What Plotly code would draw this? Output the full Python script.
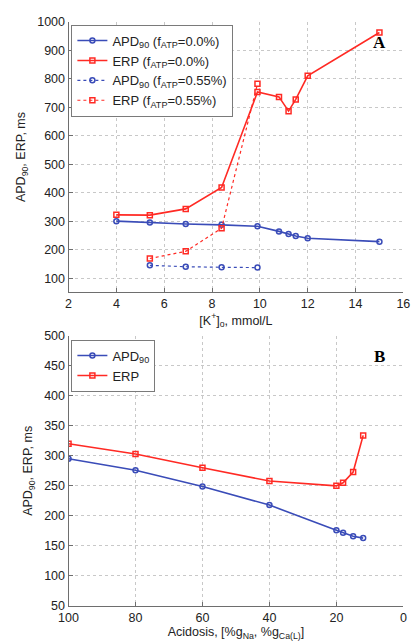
import plotly.graph_objects as go

# Panel A: extracellular potassium
k_conc = [4, 5.4, 6.9, 8.4, 9.9, 10.8, 11.2, 11.5, 12, 15]
apd90_atp0 = [300, 295, 290, 287, 282, 264, 255, 248, 240, 228]
erp_atp0 = [322, 321, 343, 418, 753, 736, 686, 727, 810, 962]

k_conc_atp = [5.4, 6.9, 8.4, 9.9]
apd90_atp055 = [145, 140, 138, 137]
erp_atp055 = [169, 194, 275, 782]

# Panel B: acidosis
acidosis = [100, 80, 60, 40, 20, 18, 15, 12]
apd90_acid = [295, 276, 249, 218, 176, 172, 166, 163]
erp_acid = [320, 303, 280, 258, 250, 255, 273, 334]

BLUE = "#3a4cb8"
RED = "#ff2a24"
FONT = "Liberation Sans, Arial, sans-serif"

fig = go.Figure()

def add(x, y, name, color, symbol, dash, xa, ya, legend):
    fig.add_trace(go.Scatter(
        x=x, y=y, name=name, mode="lines+markers",
        line=dict(color=color, width=1.6 if dash == "solid" else 1.2, dash=dash),
        marker=dict(symbol=symbol, size=5, color=color, line=dict(color=color, width=1.5)),
        xaxis=xa, yaxis=ya, legend=legend,
    ))

add(k_conc, apd90_atp0, "APD<sub>90</sub> (f<sub>ATP</sub>=0.0%)", BLUE, "circle-open", "solid", "x", "y", "legend")
add(k_conc, erp_atp0, "ERP (f<sub>ATP</sub>=0.0%)", RED, "square-open", "solid", "x", "y", "legend")
add(k_conc_atp, apd90_atp055, "APD<sub>90</sub> (f<sub>ATP</sub>=0.55%)", BLUE, "circle-open", "dot", "x", "y", "legend")
add(k_conc_atp, erp_atp055, "ERP (f<sub>ATP</sub>=0.55%)", RED, "square-open", "dot", "x", "y", "legend")

add(acidosis, apd90_acid, "APD<sub>90</sub>", BLUE, "circle-open", "solid", "x2", "y2", "legend2")
add(acidosis, erp_acid, "ERP", RED, "square-open", "solid", "x2", "y2", "legend2")

axis_common = dict(
    showline=True, linecolor="#6e6e6e", linewidth=1,
    ticks="inside", ticklen=4, tickcolor="#6e6e6e",
    showgrid=True, gridcolor="#c8c8c8", griddash="dot", gridwidth=1,
    zeroline=False, mirror=False,
    tickfont=dict(family=FONT, size=12.5, color="#222"),
    title_font=dict(family=FONT, size=12.5, color="#222"),
)

legend_common = dict(
    xanchor="left", yanchor="top",
    bordercolor="#7a7a7a", borderwidth=1, bgcolor="white",
    font=dict(family=FONT, size=13, color="#222"),
    tracegroupgap=0, itemwidth=30,
)

fig.update_layout(
    width=419, height=643,
    margin=dict(l=0, r=0, t=0, b=0),
    paper_bgcolor="white", plot_bgcolor="white",
    font=dict(family=FONT, size=12.5, color="#222"),
    xaxis=dict(domain=[0.1456, 0.9785], range=[2, 16], dtick=2, anchor="y",
               title=dict(text="[K<sup>+</sup>]<sub>o</sub>, mmol/L", standoff=2), **axis_common),
    yaxis=dict(domain=[0.5463, 0.9767], range=[50, 1000], tickvals=list(range(100, 1001, 100)), anchor="x",
               title=dict(text="APD<sub>90</sub>, ERP, ms", standoff=8), **axis_common),
    xaxis2=dict(domain=[0.1456, 0.9785], range=[100, 0], dtick=20, anchor="y2",
                title=dict(text="Acidosis, [%g<sub>Na</sub>, %g<sub>Ca(L)</sub>]", standoff=2), **axis_common),
    yaxis2=dict(domain=[0.0477, 0.4775], range=[50, 500], dtick=50, anchor="x2",
                title=dict(text="APD<sub>90</sub>, ERP, ms", standoff=8), **axis_common),
    legend=dict(x=0.1527, y=0.972, **legend_common),
    legend2=dict(x=0.1527, y=0.4712, **legend_common),
    showlegend=True,
)

fig.add_annotation(text="<b>A</b>", x=15.0, y=928, xref="x", yref="y", showarrow=False,
                   font=dict(family="Liberation Serif, Times New Roman, serif", size=17, color="#000"))
fig.add_annotation(text="<b>B</b>", x=7.0, y=466, xref="x2", yref="y2", showarrow=False,
                   font=dict(family="Liberation Serif, Times New Roman, serif", size=17, color="#000"))

fig.write_html("out.html")
